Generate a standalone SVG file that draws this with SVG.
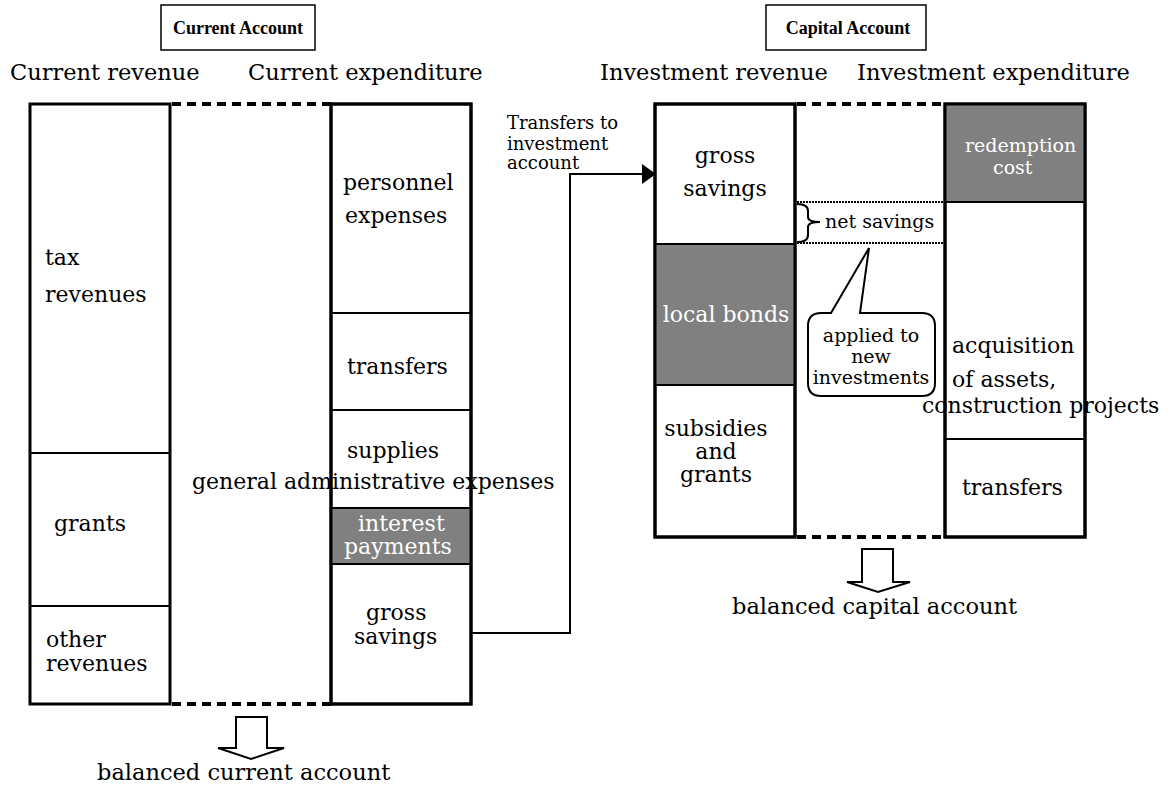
<svg xmlns="http://www.w3.org/2000/svg" width="1172" height="791" viewBox="0 0 1172 791">
<style>
.t{font-family:"DejaVu Serif","Liberation Serif",serif;font-size:22px;fill:#000}
.s{font-size:19px}
.xs{font-size:18px}
.h{font-size:22.5px}
.w{fill:#fff}
.mid{text-anchor:middle}
.title{font-family:"Liberation Serif",serif;font-weight:bold;font-size:18px;fill:#000}
.box{fill:#fff;stroke:#000;stroke-width:3}
.gray{fill:#808080;stroke:none}
.div{stroke:#000;stroke-width:2;fill:none}
.dash{stroke:#000;stroke-width:4;stroke-dasharray:9 6;fill:none}
.dot{stroke:#000;stroke-width:2;stroke-dasharray:2 1;fill:none}
.conn{stroke:#000;stroke-width:2;fill:none}
.barrow{fill:#fff;stroke:#000;stroke-width:2;stroke-linejoin:miter}
</style>
<defs>
<marker id="arr" markerWidth="14" markerHeight="20" refX="14" refY="10" orient="auto" markerUnits="userSpaceOnUse">
<path d="M0,0 L14,10 L0,20 Z" fill="#000"/>
</marker>
</defs>
<rect width="1172" height="791" fill="#fff"/>

<g id="title-current">
<rect x="161" y="5" width="154" height="45" fill="#fff" stroke="#000" stroke-width="1.5"/>
<text class="title" x="238" y="34" text-anchor="middle">Current Account</text>
</g>
<g id="title-capital">
<rect x="766" y="5" width="160" height="45" fill="#fff" stroke="#000" stroke-width="1.5"/>
<text class="title" x="848" y="34" text-anchor="middle">Capital Account</text>
</g>

<g id="headings">
<text class="t h" x="10" y="80">Current revenue</text>
<text class="t h" x="248" y="80">Current expenditure</text>
<text class="t h" x="600" y="80">Investment revenue</text>
<text class="t h" x="857" y="80">Investment expenditure</text>
</g>

<g id="current-revenue">
<rect class="box" x="30" y="104" width="140" height="600"/>
<line class="div" x1="30" y1="453" x2="170" y2="453"/>
<line class="div" x1="30" y1="606" x2="170" y2="606"/>
<text class="t" x="45" y="265">tax</text>
<text class="t" x="45" y="302">revenues</text>
<text class="t" x="54" y="531">grants</text>
<text class="t" x="46" y="647">other</text>
<text class="t" x="46" y="671">revenues</text>
</g>

<g id="current-expenditure">
<rect class="box" x="331" y="104" width="140" height="600"/>
<rect class="gray" x="331" y="508" width="140" height="56"/>
<line class="div" x1="331" y1="313" x2="471" y2="313"/>
<line class="div" x1="331" y1="410" x2="471" y2="410"/>
<line class="div" x1="331" y1="508" x2="471" y2="508"/>
<line class="div" x1="331" y1="564" x2="471" y2="564"/>
<rect x="331" y="104" width="140" height="600" fill="none" stroke="#000" stroke-width="3"/>
<text class="t" x="343" y="190">personnel</text>
<text class="t" x="345" y="223">expenses</text>
<text class="t" x="347" y="374">transfers</text>
<text class="t" x="347" y="458">supplies</text>
<text class="t w" x="358" y="531">interest</text>
<text class="t w" x="344" y="554">payments</text>
<text class="t" x="366" y="620">gross</text>
<text class="t" x="354" y="644">savings</text>
</g>

<g id="gen-admin-label">
<text class="t" x="192" y="489">general administrative expenses</text>
</g>

<g id="investment-revenue">
<rect class="box" x="655" y="104" width="140" height="433"/>
<rect class="gray" x="655" y="244" width="140" height="141"/>
<line class="div" x1="655" y1="244" x2="795" y2="244"/>
<line class="div" x1="655" y1="385" x2="795" y2="385"/>
<rect x="655" y="104" width="140" height="433" fill="none" stroke="#000" stroke-width="3"/>
<text class="t mid" x="725" y="163">gross</text>
<text class="t mid" x="725" y="196">savings</text>
<text class="t w mid" x="726" y="322">local bonds</text>
<text class="t mid" x="716" y="436">subsidies</text>
<text class="t mid" x="716" y="459">and</text>
<text class="t mid" x="716" y="482">grants</text>
</g>

<g id="investment-expenditure">
<rect class="box" x="945" y="104" width="140" height="433"/>
<rect class="gray" x="945" y="104" width="140" height="98"/>
<line class="div" x1="945" y1="202" x2="1085" y2="202"/>
<line class="div" x1="945" y1="439" x2="1085" y2="439"/>
<rect x="945" y="104" width="140" height="433" fill="none" stroke="#000" stroke-width="3"/>
<text class="t s w" x="965" y="152">redemption</text>
<text class="t s w" x="993" y="174">cost</text>
<text class="t" x="952" y="353">acquisition</text>
<text class="t" x="952" y="387">of assets,</text>
<text class="t" x="922" y="413">construction projects</text>
<text class="t" x="962" y="495">transfers</text>
</g>

<g id="net-savings">
<line class="dot" x1="797" y1="202" x2="945" y2="202"/>
<line class="dot" x1="797" y1="243" x2="945" y2="243"/>
<path class="div" d="M797,204 Q808,204 808,211 V217 Q808,222 820,222 Q808,222 808,227 V235 Q808,242 797,242"/>
<text class="t s" x="825" y="228">net savings</text>
</g>

<g id="callout">
<path d="M821,313 L831,313 L869,248 L860,313 L922,313 Q935,313 935,326 L935,383 Q935,396 922,396 L821,396 Q808,396 808,383 L808,326 Q808,313 821,313 Z" fill="#fff" stroke="#000" stroke-width="2"/>
<text class="t s mid" x="871" y="342">applied to</text>
<text class="t s mid" x="871" y="363">new</text>
<text class="t s mid" x="871" y="384">investments</text>
</g>

<g id="transfer-label">
<text class="t xs" x="507" y="129">Transfers to</text>
<text class="t xs" x="507" y="150">investment</text>
<text class="t xs" x="507" y="169">account</text>
</g>

<g id="balanced-current">
<polygon class="barrow" points="236,717 267,717 267,748 284,748 251,759 218,748 236,748"/>
<text class="t h" x="97" y="780">balanced current account</text>
</g>

<g id="balanced-capital">
<polygon class="barrow" points="862,549 893,549 893,582 910,582 878,592 847,582 862,582"/>
<text class="t h" x="732" y="614">balanced capital account</text>
</g>

<g id="connectors">
<line class="dash" x1="172" y1="104" x2="331" y2="104"/>
<line class="dash" x1="172" y1="704" x2="331" y2="704"/>
<line class="dash" x1="797" y1="104" x2="945" y2="104"/>
<line class="dash" x1="797" y1="537" x2="945" y2="537"/>
<path class="conn" d="M471,633 H570 V174 H656" marker-end="url(#arr)"/>
</g>
</svg>
